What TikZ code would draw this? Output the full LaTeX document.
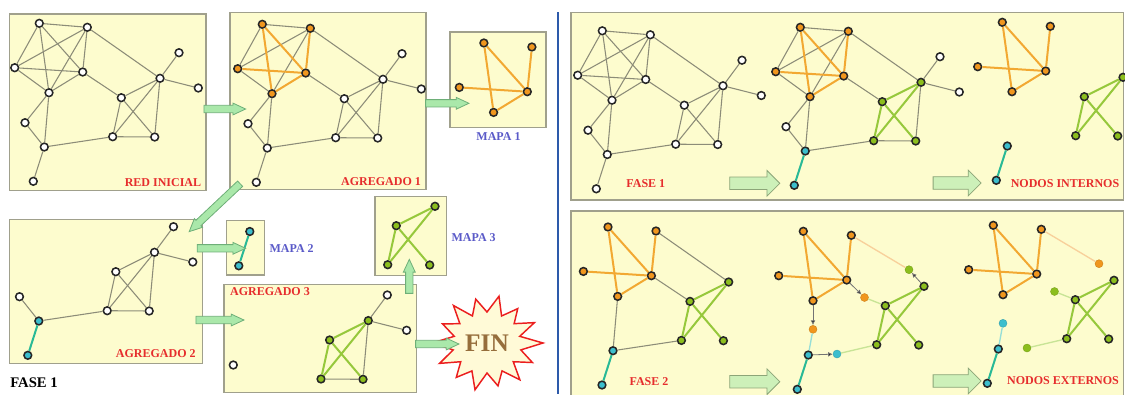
\documentclass[tikz,border=0pt]{standalone}
\usepackage{fontspec}
\setmainfont{Liberation Serif}
\usetikzlibrary{calc,shapes.arrows,arrows.meta}

\definecolor{boxfill}{RGB}{253,252,206}
\definecolor{boxline}{RGB}{160,160,140}
\definecolor{edgegray}{RGB}{140,140,120}
\definecolor{nodeorange}{RGB}{240,150,30}
\definecolor{edgeorange}{RGB}{242,168,50}
\definecolor{nodegreen}{RGB}{140,190,30}
\definecolor{edgegreen}{RGB}{150,200,60}
\definecolor{nodecyan}{RGB}{60,190,205}
\definecolor{edgeteal}{RGB}{40,185,150}
\definecolor{faintorange}{RGB}{248,208,155}
\definecolor{faintgreen}{RGB}{200,228,150}
\definecolor{faintcyan}{RGB}{150,222,215}
\definecolor{lblred}{RGB}{230,45,45}
\definecolor{lblblue}{RGB}{90,90,200}
\definecolor{arrowfill}{RGB}{170,232,170}
\definecolor{arrowline}{RGB}{110,175,120}
\definecolor{bigfill}{RGB}{205,240,185}
\definecolor{bigline}{RGB}{140,165,120}
\definecolor{sepblue}{RGB}{45,90,170}
\definecolor{finred}{RGB}{235,30,30}
\definecolor{finfill}{RGB}{255,250,215}
\definecolor{fintext}{RGB}{150,110,60}

\tikzset{
  panel/.style={draw=boxline, fill=boxfill, line width=1pt},
  wnode/.style={circle, draw=black!85, fill=white, line width=1.15pt, inner sep=0pt, minimum size=5.8pt},
  onode/.style={wnode, fill=nodeorange},
  gnode/.style={wnode, fill=nodegreen},
  cnode/.style={wnode, fill=nodecyan},
  osmall/.style={circle, draw=nodeorange!85!black, fill=nodeorange, line width=0.3pt, inner sep=0pt, minimum size=6pt},
  gsmall/.style={osmall, draw=nodegreen!85!black, fill=nodegreen},
  csmall/.style={osmall, draw=nodecyan!85!black, fill=nodecyan},
  gline/.style={draw=edgegray, line width=0.8pt},
  oline/.style={draw=edgeorange, line width=1.5pt},
  grline/.style={draw=edgegreen, line width=1.5pt},
  tline/.style={draw=edgeteal, line width=1.5pt},
  ofaint/.style={draw=faintorange, line width=1pt},
  gfaint/.style={draw=faintgreen, line width=1pt},
  cfaint/.style={draw=faintcyan, line width=1pt},
  mvarrow/.style={draw=black!55, line width=0.6pt, -{Latex[length=3.5pt,width=3.5pt,fill=black]}},
  garrow/.style={single arrow, draw=arrowline, fill=arrowfill, line width=0.6pt, inner sep=0pt, inner ysep=2.45pt,
    single arrow head extend=1.7pt, single arrow tip angle=50, minimum width=0pt},
  barrow/.style={garrow, draw=bigline, fill=bigfill, inner ysep=4.4pt, single arrow head extend=5pt, single arrow tip angle=90},
  redlbl/.style={text=lblred, font=\bfseries\fontsize{9}{10}\selectfont, inner sep=0pt},
  bluelbl/.style={redlbl, text=lblblue},
  finstar/.style={draw=finred, fill=finfill, line width=1.1pt, line join=miter},
}

% positions of the base graph (red inicial), in pixels
\newcommand\setpos[3]{\expandafter\def\csname gx#1\endcsname{#2}\expandafter\def\csname gy#1\endcsname{#3}}
\setpos{A}{39.3}{23.3}
\setpos{B}{87.3}{27.3}
\setpos{C}{14.7}{67.7}
\setpos{D}{82.7}{72}
\setpos{E}{49}{92.7}
\setpos{F}{179}{52.7}
\setpos{G}{160}{78.3}
\setpos{H}{198.3}{88}
\setpos{I}{121.3}{97.7}
\setpos{J}{25}{122.7}
\setpos{K}{44.3}{147}
\setpos{L}{112.7}{136.7}
\setpos{M}{154.7}{137}
\setpos{N}{33.3}{181.3}
% moved copies of the border nodes
\setpos{P}{145}{61.7}
\setpos{Q}{100.5}{89.5}
\setpos{R}{73}{146}
\setpos{S}{49}{121.3}

\newcommand\gnodes[2]{%
  \edef\nodelist{#2}%
  \foreach \n/\s in \nodelist{%
    \node[\s] (#1\n) at (\csname gx\n\endcsname,\csname gy\n\endcsname) {};}}
\newcommand\gedges[3]{%
  \edef\edgelist{#3}%
  \foreach \a/\b in \edgelist{\draw[#2] (#1\a) -- (#1\b);}}
\newcommand\fatarrow[3][garrow]{%
  \path let \p1=($(#3)-(#2)$), \n1={veclen(\x1,\y1)}, \n2={-atan2(\y1,\x1)} in
    node[#1, minimum height=\n1, rotate=\n2] (#2#3) at ($(#2)!0.5!(#3)$) {};}

\def\orangeset{A/D,A/E,B/D,C/D,D/E}
\def\greenset{G/I,G/L,I/L,I/M}
\def\restset{A/B,A/C,B/C,B/E,C/E,B/G,D/I,E/J,E/K,J/K,K/L,G/F,G/H,G/M,L/M}
\def\allwhite{A/wnode,B/wnode,C/wnode,D/wnode,E/wnode,F/wnode,G/wnode,H/wnode,I/wnode,J/wnode,K/wnode,L/wnode,M/wnode,N/wnode}
\def\colored{A/onode,B/onode,C/onode,D/onode,E/onode,G/gnode,I/gnode,L/gnode,M/gnode,K/cnode,N/cnode}

\begin{document}
\begin{tikzpicture}[x=0.75pt,y=0.75pt,yscale=-1,xscale=1]
\useasboundingbox (0,0) rectangle (1125,394);

% panels
\draw[panel] (9.3,14) rectangle (206,190.7);
\draw[panel] (230,12.7) rectangle (426,189.3);
\draw[panel] (450,32) rectangle (546,127.3);
\draw[panel] (9.3,219.3) rectangle (202.7,363.3);
\draw[panel] (226.7,220.7) rectangle (264.3,275);
\draw[panel] (224,284.3) rectangle (416.7,392.3);
\draw[panel] (375,196.7) rectangle (446.7,275.7);
\draw[panel] (571,12.7) rectangle (1123.5,200);
\draw[panel] (571,211) rectangle (1123.5,397);

% separator
\draw[sepblue, line width=1.5pt] (558.3,12) -- (558.3,394);

% red inicial
\gnodes{ri}{\allwhite}
\gedges{ri}{gline}{\orangeset,\greenset,\restset,K/N}
\node[redlbl] (lblri) at (163,182.7) {RED INICIAL};

% agregado 1
\begin{scope}[shift={(223,1)}]
  \gnodes{aa}{A/onode,B/onode,C/onode,D/onode,E/onode,F/wnode,G/wnode,H/wnode,I/wnode,J/wnode,K/wnode,L/wnode,M/wnode,N/wnode}
\end{scope}
\gedges{aa}{gline}{\greenset,\restset,K/N}
\gedges{aa}{oline}{\orangeset}
\node[redlbl] (lblaa) at (381,182) {AGREGADO 1};

% mapa 1
\begin{scope}[shift={(444.6,19.7)}]
  \gnodes{ma}{A/onode,B/onode,C/onode,D/onode,E/onode}
\end{scope}
\gedges{ma}{oline}{\orangeset}
\node[bluelbl] (lblma) at (498.5,136.7) {MAPA 1};

% agregado 2
\begin{scope}[shift={(-5.5,174)}]
  \gnodes{ab}{F/wnode,G/wnode,H/wnode,I/wnode,J/wnode,L/wnode,M/wnode,K/cnode,N/cnode}
\end{scope}
\gedges{ab}{gline}{F/G,G/H,\greenset,G/M,L/M,K/L,J/K}
\gedges{ab}{tline}{K/N}
\node[redlbl] (lblab) at (155.8,354) {AGREGADO 2};

% mapa 2
\begin{scope}[shift={(205.5,84.5)}]
  \gnodes{mb}{K/cnode,N/cnode}
\end{scope}
\gedges{mb}{tline}{K/N}
\node[bluelbl] (lblmb) at (291.7,249) {MAPA 2};

% agregado 3
\begin{scope}[shift={(208.3,242.3)}]
  \gnodes{ac}{F/wnode,H/wnode,J/wnode,G/gnode,I/gnode,L/gnode,M/gnode}
\end{scope}
\gedges{ac}{gline}{F/G,G/H,G/M,L/M}
\gedges{ac}{grline}{\greenset}
\node[redlbl] (lblac) at (270,291.7) {AGREGADO 3};

% mapa 3
\begin{scope}[shift={(275,128)}]
  \gnodes{mc}{G/gnode,I/gnode,L/gnode,M/gnode}
\end{scope}
\gedges{mc}{grline}{\greenset}
\node[bluelbl] (lblmc) at (473.7,237.7) {MAPA 3};

% fin
\begin{scope}[shift={(487,343)}, xscale=1.12]
  \draw[finstar] (0:50) \foreach \a/\r in {12.9/31,25.7/45,38.6/30,51.4/47,64.3/31,77.1/44,90/30,102.9/48,115.7/31,
    128.6/44,141.4/30,154.3/47,167.1/31,180/49,192.9/30,205.7/44,218.6/31,231.4/48,244.3/30,257.1/45,270/31,
    282.9/48,295.7/30,308.6/44,321.4/31,334.3/47,347.1/30} {-- (\a:\r)} -- cycle;
\end{scope}
\node[text=fintext, font=\bfseries\fontsize{19}{20}\selectfont, inner sep=0pt] (fin) at (487,343) {FIN};

\node[font=\bfseries\fontsize{11}{12}\selectfont, inner sep=0pt] (fase) at (34,382.7) {FASE 1};

% green arrows between the boxes
\coordinate (a1s) at (200,109);   \coordinate (a1e) at (241.7,109);
\coordinate (a2s) at (421.7,103.3); \coordinate (a2e) at (465,103.3);
\coordinate (a3s) at (243,181);   \coordinate (a3e) at (192,229);
\coordinate (a4s) at (193.3,248.3); \coordinate (a4e) at (241.7,248.3);
\coordinate (a5s) at (192,320);   \coordinate (a5e) at (240,320);
\coordinate (a6s) at (409.3,297.3); \coordinate (a6e) at (409.3,263.3);
\coordinate (a7s) at (411.7,344); \coordinate (a7e) at (455,344);
\foreach \k in {1,...,7} {\fatarrow{a\k s}{a\k e}}

% fase 1, right
\begin{scope}[shift={(563,7.5)}]
  \gnodes{fa}{\allwhite}
\end{scope}
\gedges{fa}{gline}{\orangeset,\greenset,\restset,K/N}
\node[redlbl] (lblfa) at (645.8,184) {FASE 1};

\begin{scope}[shift={(761,4)}]
  \gnodes{fb}{\colored,F/wnode,H/wnode,J/wnode}
\end{scope}
\gedges{fb}{gline}{\restset}
\gedges{fb}{oline}{\orangeset}
\gedges{fb}{grline}{\greenset}
\gedges{fb}{tline}{K/N}

\begin{scope}[shift={(963,-1)}]
  \gnodes{fc}{\colored}
\end{scope}
\gedges{fc}{oline}{\orangeset}
\gedges{fc}{grline}{\greenset}
\gedges{fc}{tline}{K/N}
\node[redlbl] (lblfc) at (1065,183.3) {NODOS INTERNOS};

% fase 2
\begin{scope}[shift={(568.7,203.7)}]
  \gnodes{sa}{\colored}
\end{scope}
\gedges{sa}{gline}{B/G,D/I,E/K,K/L}
\gedges{sa}{oline}{\orangeset}
\gedges{sa}{grline}{\greenset}
\gedges{sa}{tline}{K/N}
\node[redlbl] (lblsa) at (649,381.7) {FASE 2};

\begin{scope}[shift={(764,208)}]
  \gnodes{sb}{\colored,P/gsmall,Q/osmall,R/csmall,S/osmall}
\end{scope}
\gedges{sb}{oline}{\orangeset}
\gedges{sb}{grline}{\greenset}
\gedges{sb}{tline}{K/N}
\gedges{sb}{ofaint}{B/P}
\gedges{sb}{gfaint}{Q/I,R/L}
\gedges{sb}{cfaint}{S/K}
\gedges{sb}{mvarrow}{G/P,D/Q,E/S,K/R}

\begin{scope}[shift={(954,202)}]
  \gnodes{sc}{\colored,P/osmall,Q/gsmall,R/gsmall,S/csmall}
\end{scope}
\gedges{sc}{oline}{\orangeset}
\gedges{sc}{grline}{\greenset}
\gedges{sc}{tline}{K/N}
\gedges{sc}{ofaint}{B/P}
\gedges{sc}{gfaint}{Q/I,R/L}
\gedges{sc}{cfaint}{S/K}
\node[redlbl] (lblsc) at (1063,380.7) {NODOS EXTERNOS};

% big arrows
\coordinate (b1s) at (726.7,183.3); \coordinate (b1e) at (776.7,183.3);
\coordinate (b2s) at (930,183);     \coordinate (b2e) at (978,183);
\coordinate (b3s) at (726.7,381.7); \coordinate (b3e) at (776.7,381.7);
\coordinate (b4s) at (930,381);     \coordinate (b4e) at (978,381);
\foreach \k in {1,...,4} {\fatarrow[barrow]{b\k s}{b\k e}}

\end{tikzpicture}
\end{document}
